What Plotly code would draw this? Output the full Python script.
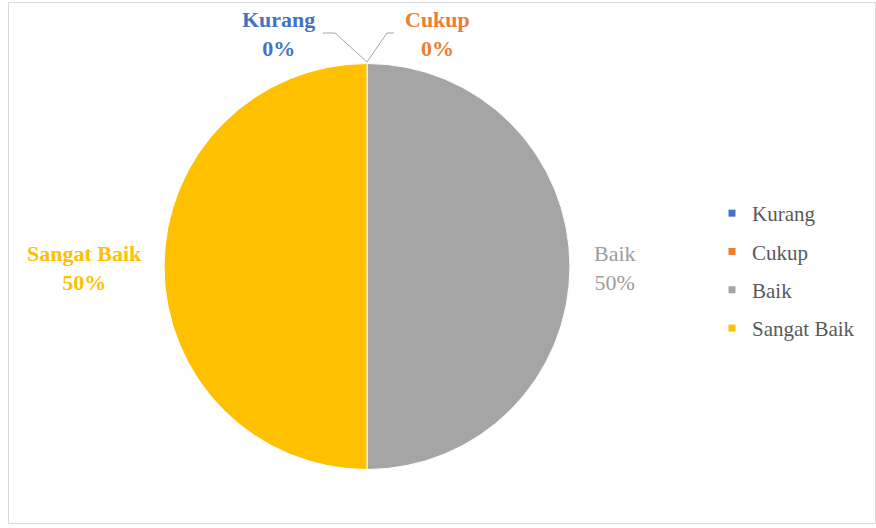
import plotly.graph_objects as go

# Survey result categories and their shares
categories = ["Kurang", "Cukup", "Baik", "Sangat Baik"]
values = [0, 0, 50, 50]
colors = ["#4472C4", "#ED7D31", "#A5A5A5", "#FFC000"]

W, H = 876, 528
total = sum(values)
SERIF = "serif"


def px(x):
    return x / W


def py(y):
    return 1 - y / H


fig = go.Figure()

fig.add_trace(go.Pie(
    labels=categories,
    values=values,
    sort=False,
    direction="clockwise",
    rotation=0,
    marker=dict(colors=colors, line=dict(color="white", width=1)),
    textinfo="none",
    hoverinfo="label+percent",
    showlegend=False,
    domain=dict(x=[px(164), px(570)], y=[py(470), py(63)]),
))

# Legend entries, one per category
for cat, col in zip(categories, colors):
    fig.add_trace(go.Scatter(
        x=[None], y=[None], mode="markers", name=cat, legendgroup=cat,
        marker=dict(symbol="square", size=7, color=col),
        xaxis="x", yaxis="y",
    ))

# Data labels: category name and percentage
label_pos = {
    "Kurang": (278, 34, True),
    "Cukup": (437, 34, True),
    "Baik": (615, 268, False),
    "Sangat Baik": (84, 268, True),
}
for cat, val, col in zip(categories, values, colors):
    x, y, bold = label_pos[cat]
    pct = f"{round(100 * val / total)}%"
    txt = f"{cat}<br>{pct}"
    if bold:
        txt = f"<b>{cat}</b><br><b>{pct}</b>"
    fig.add_annotation(
        x=px(x), y=py(y), xref="paper", yref="paper", text=txt,
        showarrow=False, align="center", xanchor="center", yanchor="middle",
        font=dict(family=SERIF, size=22,
                  color=col if cat != "Baik" else "#9C9C9C"),
    )

# Leader lines for the zero-sized slices
leader = "#A6A6A6"
fig.add_shape(type="path", xref="paper", yref="paper",
              path=f"M {px(323)},{py(33)} L {px(335)},{py(33)} L {px(367)},{py(62)}",
              line=dict(color=leader, width=1))
fig.add_shape(type="path", xref="paper", yref="paper",
              path=f"M {px(394)},{py(33)} L {px(387)},{py(33)} L {px(367)},{py(62)}",
              line=dict(color=leader, width=1))

# Chart frame
fig.add_shape(type="rect", xref="paper", yref="paper",
              x0=px(8.5), y0=py(523.5), x1=px(875.5), y1=py(2.5),
              line=dict(color="#D9D9D9", width=1), layer="below")

fig.update_layout(
    width=W, height=H,
    margin=dict(l=0, r=0, t=0, b=0),
    paper_bgcolor="white", plot_bgcolor="white",
    font=dict(family=SERIF),
    xaxis=dict(visible=False), yaxis=dict(visible=False),
    legend=dict(
        x=px(712), y=py(193), xanchor="left", yanchor="top",
        font=dict(family=SERIF, size=21, color="#595959"),
        tracegroupgap=8, traceorder="grouped",
        bgcolor="rgba(0,0,0,0)",
    ),
)

fig.write_html("out.html")
